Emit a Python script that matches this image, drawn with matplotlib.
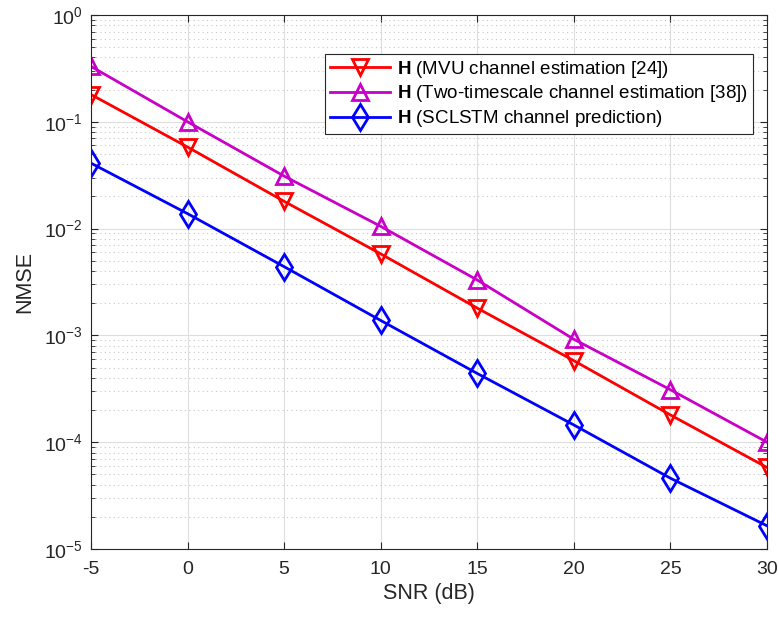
import numpy as np
import matplotlib.pyplot as plt
from matplotlib.ticker import LogLocator, NullFormatter

plt.rcParams['font.family'] = ['Liberation Sans', 'DejaVu Sans']
plt.rcParams['mathtext.fontset'] = 'custom'
plt.rcParams['mathtext.rm'] = 'Liberation Sans'
plt.rcParams['mathtext.bf'] = 'Liberation Sans:bold'

snr = [-5, 0, 5, 10, 15, 20, 25, 30]
nmse_mvu = [0.18, 0.058, 0.018, 0.0058, 0.0018, 5.8e-4, 1.8e-4, 5.8e-5]
nmse_two = [0.33, 0.10, 0.031, 0.0105, 0.0033, 9.2e-4, 3.1e-4, 1.0e-4]
nmse_sclstm = [0.041, 0.0138, 0.0044, 0.00138, 4.4e-4, 1.45e-4, 4.6e-5, 1.65e-5]

labels = [r'$\mathbf{H}$ (MVU channel estimation [24])',
          r'$\mathbf{H}$ (Two-timescale channel estimation [38])',
          r'$\mathbf{H}$ (SCLSTM channel prediction)']

fig = plt.figure(figsize=(7.79, 6.17), dpi=100)
ax = fig.add_axes([91/779, 1-549/617, (767-91)/779, (549-15)/617])

ax.semilogy(snr, nmse_mvu, color='#ff0000', lw=2, marker='v', ms=12,
            mfc='none', mew=2, label=labels[0])
ax.semilogy(snr, nmse_two, color='#c800c8', lw=2, marker='^', ms=12,
            mfc='none', mew=2, label=labels[1])
ax.semilogy(snr, nmse_sclstm, color='#0000ff', lw=2, marker='d', ms=13,
            mfc='none', mew=2, label=labels[2])

ax.set_xlim(-5, 30)
ax.set_ylim(1e-5, 1)
ax.set_xticks(snr)
ax.set_xticklabels(['-5', '0', '5', '10', '15', '20', '25', '30'])
ax.yaxis.set_major_locator(LogLocator(base=10, numticks=10))
ax.yaxis.set_minor_locator(LogLocator(base=10, subs=np.arange(2, 10), numticks=10))
ax.yaxis.set_minor_formatter(NullFormatter())

ax.grid(True, which='major', color='#dedede', lw=0.8, ls='-')
ax.grid(True, which='minor', axis='y', color='#c8c8c8', lw=0.8, ls=(0, (1, 3)))
ax.set_axisbelow(True)

ax.tick_params(which='both', direction='in', top=True, right=True, labelsize=14,
               color='#262626', labelcolor='#262626')
ax.tick_params(which='major', length=5)
ax.tick_params(which='minor', length=3)
ax.tick_params(axis='x', pad=9)
ax.tick_params(axis='y', pad=6)
for s in ax.spines.values():
    s.set_color('#262626')
    s.set_linewidth(0.8)

ax.set_xlabel('SNR (dB)', fontsize=15.5, color='#262626', labelpad=3)
ax.set_ylabel('NMSE', fontsize=15.5, color='#262626', labelpad=6)

leg = ax.legend(loc='upper right', bbox_to_anchor=(0.979, 0.927), fontsize=13.5,
                fancybox=False, framealpha=1, edgecolor='#262626',
                handlelength=3.2, borderpad=0.25, labelspacing=0.2,
                handletextpad=0.4, borderaxespad=0)
leg.get_frame().set_linewidth(0.8)

fig.savefig('out.png', dpi=100)
